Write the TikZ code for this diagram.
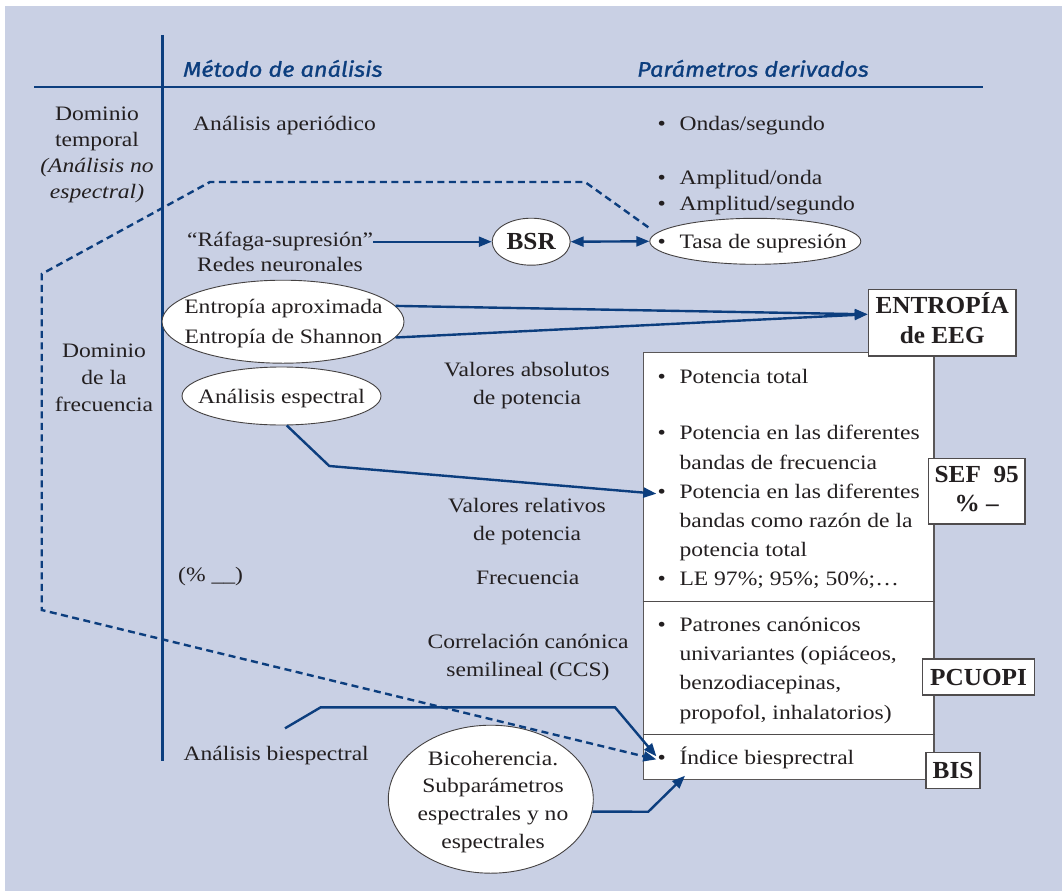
\documentclass[tikz,border=0pt]{standalone}
\usepackage{fontspec}
\setmainfont{Liberation Serif}[FakeStretch=1.15]
\newfontfamily\tagfont{Liberation Serif}[FakeStretch=1.03]
\newfontfamily\hdrfont{Fira Sans}[FakeStretch=1.12, FakeBold=1.2]
\usetikzlibrary{arrows.meta,shapes.geometric}

\definecolor{paper}{RGB}{201,208,228}
\definecolor{navy}{RGB}{12,62,126}
\definecolor{ink}{RGB}{35,31,32}

% stacked lines whose baseline is the first line
\newcommand\stk[2][c]{\begin{tabular}[t]{@{}#1@{}}#2\end{tabular}}

\tikzset{
  txt/.style={inner sep=0pt, anchor=base, text=ink, font=\fontsize{20.5}{#1}\selectfont},
  txt/.default=26,
  txtw/.style={txt=#1, anchor=base west},
  txtw/.default=29,
  hdr/.style={inner sep=0pt, anchor=base west, text=navy,
    font=\hdrfont\itshape\fontsize{21}{25}\selectfont},
  oval/.style={ellipse, draw=ink!85, line width=0.9pt, fill=white, inner sep=0pt},
  tag/.style={rectangle, draw=ink!80, line width=1.3pt, fill=white, inner sep=0pt,
    text=ink, font=\tagfont\bfseries\fontsize{24.5}{30}\selectfont},
  panel/.style={rectangle, draw=ink!75, line width=1.2pt, fill=white, inner sep=0pt},
  rulebar/.style={navy, line width=2.8pt},
  link/.style={navy, line width=2.4pt, -{Triangle[length=13pt,width=10pt]}},
  duallink/.style={navy, line width=2.4pt, {Triangle[length=13pt,width=10pt]}-{Triangle[length=13pt,width=10pt]}},
  dashlink/.style={navy, line width=2.4pt, dash pattern=on 7pt off 4.5pt,
    -{Triangle[length=13pt,width=10pt]}},
}

\begin{document}
\begin{tikzpicture}[x=1pt,y=-1pt]
\useasboundingbox (0,0) rectangle (1062,891);
\fill[paper] (5,6) rectangle (1062,891);

% table rules
\coordinate (vtop) at (162.5,35);
\coordinate (vbot) at (162.5,760.7);
\coordinate (hl) at (34,87);
\coordinate (hr) at (982.7,87);
\draw[rulebar] (vtop) -- (vbot);
\draw[rulebar] (hl) -- (hr);

% column headings
\node[hdr] (h1) at (183,76.7) {Método de análisis};
\node[hdr] (h2) at (637,76.7) {Parámetros derivados};

% row headings
\node[txt=26] (dt) at (97,120.7) {\stk{Dominio\\temporal\\\itshape(Análisis no\\\itshape espectral)}};
\node[txt=27] (df) at (104,357.3) {\stk{Dominio\\de la\\frecuencia}};

% panel of derived parameters
\node[panel, anchor=north west, minimum width=290.6pt, minimum height=427.3pt] (pbox) at (642.7,351.7) {};
\coordinate (d1) at (642.7,601.5);
\coordinate (d2) at (642.7,734.3);
\draw[ink!80, line width=1.2pt] (d1) -- (d1 -| pbox.east);
\draw[ink!80, line width=1.2pt] (d2) -- (d2 -| pbox.east);

% dashed path linking the suppression rate to the bispectral index
\coordinate (q0) at (648.3,227.3);
\coordinate (q1) at (585,182);
\coordinate (q2) at (210,182);
\coordinate (q3) at (41.7,274);
\coordinate (q4) at (41.7,610);

% method column
\node[txtw] (aper) at (193,130) {Análisis aperiódico};
\node[txtw] (raf) at (187,246.7) {“Ráfaga-supresión”};
\node[txtw] (redes) at (197,271.7) {Redes neuronales};

\node[oval, minimum width=242pt, minimum height=83pt] (entE) at (283,321.7) {};
\node[txt=30] (entT) at (283.5,313.3) {\stk{Entropía aproximada\\Entropía de Shannon}};

\node[oval, minimum width=199pt, minimum height=58pt] (espE) at (281.5,396) {};
\node[txt] (espT) at (281.5,403.3) {Análisis espectral};

\node[txt=27.3] (vabs) at (527,376.7) {\stk{Valores absolutos\\de potencia}};
\node[txt=27.3] (vrel) at (527,512.7) {\stk{Valores relativos\\de potencia}};
\node[txtw] (pct) at (178,581) {(\% \_\_)};
\node[txt] (frec) at (527.7,584.3) {Frecuencia};
\node[txt=27.7] (ccs) at (528,648.3) {\stk{Correlación canónica\\semilineal (CCS)}};
\node[txtw] (bies) at (183.3,760) {Análisis biespectral};

\node[oval, minimum width=205pt, minimum height=148pt] (bicE) at (490.8,799.2) {};
\node[txt=27.8] (bicT) at (493,765) {\stk{Bicoherencia.\\Subparámetros\\espectrales y no\\espectrales}};

% time-domain parameters
\node[oval, minimum width=211pt, minimum height=46pt] (tasaE) at (755.3,241.3) {};
\node[oval, minimum width=78pt, minimum height=47pt] (bsr) at (531.2,241.7) {};
\node[txt, font=\tagfont\bfseries\fontsize{24.5}{30}\selectfont] (bsrT) at (531.2,249) {BSR};

\node[txt] (b1) at (661.7,130) {•};
\node[txtw] (t1) at (679.3,130) {Ondas/segundo};
\node[txt] (b2) at (661.7,184) {•};
\node[txtw] (t2) at (679.3,184) {Amplitud/onda};
\node[txt] (b3) at (661.7,210.7) {•};
\node[txtw] (t3) at (679.3,210.7) {Amplitud/segundo};
\node[txt] (b4) at (661.7,248.3) {•};
\node[txtw] (t4) at (679.3,248.3) {Tasa de supresión};

% frequency-domain parameters
\node[txt] (p1) at (661.7,383.3) {•};
\node[txtw] (u1) at (679.3,383.3) {Potencia total};
\node[txt] (p2) at (661.7,439.3) {•};
\node[txtw=30] (u2) at (679.3,439.3) {\stk[l]{Potencia en las diferentes\\bandas de frecuencia}};
\node[txt] (p3) at (661.7,498.3) {•};
\node[txtw=29.2] (u3) at (679.3,498.3) {\stk[l]{Potencia en las diferentes\\bandas como razón de la\\potencia total}};
\node[txt] (p4) at (661.7,585.7) {•};
\node[txtw] (u4) at (679.3,585.7) {LE 97\%; 95\%; 50\%;…};
\node[txt] (p5) at (661.7,631.7) {•};
\node[txtw=29.1] (u5) at (679.3,631.7) {\stk[l]{Patrones canónicos\\univariantes (opiáceos,\\benzodiacepinas,\\propofol, inhalatorios)}};
\node[txt] (p6) at (661.7,764) {•};
\node[txtw] (u6) at (679.3,764) {Índice biesprectral};

% index tags
\node[tag, minimum width=147.7pt, minimum height=66.7pt] (entTag) at (942.2,322.7) {\stk{ENTROPÍA\\de EEG}};
\node[tag, minimum width=96.7pt, minimum height=65.7pt, font=\tagfont\bfseries\fontsize{24.5}{29}\selectfont] (sef) at (976.7,491.2) {\stk{SEF\ \ 95\\\% –}};
\node[tag, minimum width=111.6pt, minimum height=36pt] (pcu) at (978.5,677) {PCUOPI};
\node[tag, minimum width=54pt, minimum height=36pt] (bis) at (953,770.3) {BIS};

% connectors
\draw[link] (raf.east |- bsr.west) -- (bsr.west);
\draw[duallink] (bsr.east) -- (tasaE.west);

\coordinate (entIn) at ([yshift=8.4pt]entTag.west);
\draw[link] (entE.8) -- (entIn);
\draw[link] (entE.-8) -- (entIn);

\coordinate (k1) at (329.3,466);
\draw[link] (espE.-80) -- (k1) -- ([xshift=-1pt]p3.west);

\coordinate (s0) at (285,728.3);
\coordinate (s1) at (320.7,707.3);
\coordinate (s2) at (615,707.3);
\draw[link] (s0) -- (s1) -- (s2) -- ([xshift=-1pt,yshift=3pt]p6.west);

\coordinate (c1) at (648.3,811.7);
\coordinate (c2) at (685,775.7);
\draw[link] (bicE.-7) -- (c1) -- (c2);

\draw[dashlink] (q0) -- (q1) -- (q2) -- (q3) -- (q4) -- ([xshift=-1pt]p6.west);
\end{tikzpicture}
\end{document}
